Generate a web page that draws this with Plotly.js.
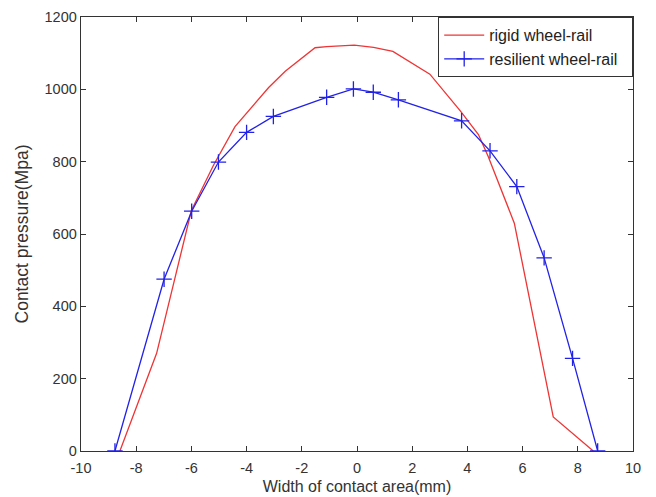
<!DOCTYPE html>
<html><head><meta charset="utf-8">
<script src="https://cdn.plot.ly/plotly-3.0.1.min.js"></script>
<style>html,body{margin:0;padding:0;background:#fff;}#chart{width:656px;height:497px;}</style>
</head><body><div id="chart"></div>
<script>
const rigidX = [-8.59,-7.26,-6.0,-5.2,-4.42,-3.2,-2.6,-1.52,-1.1,-0.1,0.6,1.3,2.64,3.75,4.4,4.75,5.7,7.11,8.56];
const rigidY = [0,270,665,790,897,1005,1050,1115,1118,1122,1116,1105,1042,940,875,815,630,94,0];
const resX = [-8.77,-6.99,-5.99,-5.02,-4.0,-3.03,-1.1,-0.13,0.59,1.5,3.79,4.82,5.79,6.78,7.81,8.72];
const resY = [0,475,663,799,881,925,978,1001,992,971,913,830,731,534,256,0];
const xTicks = [-10,-8,-6,-4,-2,0,2,4,6,8,10];
const yTicks = [0,200,400,600,800,1000,1200];

const fam = 'Liberation Sans, Arial, sans-serif';
const tickFont = {family:fam, size:14.5, color:'#333'};
const data = [
  {x: rigidX, y: rigidY, mode:'lines', name:'rigid wheel-rail\u00a0\u00a0', line:{color:'#ee3535', width:1.3}},
  {x: resX, y: resY, mode:'lines+markers', name:'resilient wheel-rail\u00a0\u00a0', line:{color:'#2222e6', width:1.3},
   marker:{symbol:'cross-thin', size:11, line:{color:'#2222e6', width:1.3}}}
];
const axBase = {showgrid:false, zeroline:false, showline:true, linecolor:'#333', linewidth:1.3, mirror:'ticks',
  ticks:'inside', ticklen:5, tickcolor:'#333', tickfont:tickFont};
const layout = {
  width:656, height:497, paper_bgcolor:'#fff', plot_bgcolor:'#fff',
  margin:{l:81, r:23, t:17, b:46},
  showlegend:true,
  legend:{x:1, xanchor:'right', y:1, yanchor:'top', bordercolor:'#333', borderwidth:1.2, bgcolor:'#fff',
    font:{family:fam, size:16, color:'#222'}, tracegroupgap:0, itemwidth:40},
  xaxis: Object.assign({}, axBase, {range:[-10,10], tickvals:xTicks, ticktext:xTicks.map(String), ticklabelstandoff:3,
    title:{text:'Width of contact area(mm)', font:{family:fam, size:16, color:'#333'}, standoff:6}}),
  yaxis: Object.assign({}, axBase, {range:[0,1200], tickvals:yTicks, ticktext:yTicks.map(String),
    title:{text:'Contact pressure(Mpa)', font:{family:fam, size:17.5, color:'#333'}, standoff:11}})
};
Plotly.newPlot('chart', data, layout, {displayModeBar:false, staticPlot:true});
</script></body></html>
